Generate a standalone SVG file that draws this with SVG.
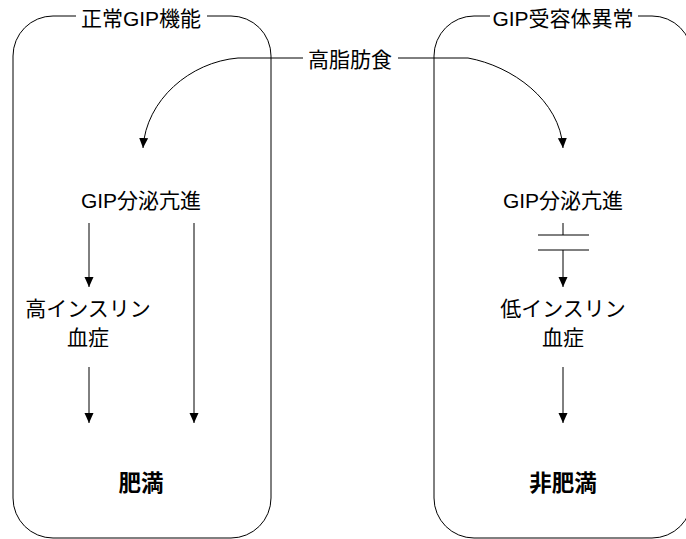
<svg xmlns="http://www.w3.org/2000/svg" width="686" height="539" viewBox="0 0 686 539">
<defs>
<marker id="ah" viewBox="0 0 10 10" refX="10" refY="5" markerWidth="10" markerHeight="10" markerUnits="userSpaceOnUse" orient="auto">
<path d="M0,0.5 L10,5 L0,9.5 Z" fill="#000"/>
</marker>
<style>
.box{fill:none;stroke:#000;stroke-width:1}
.ln{fill:none;stroke:#000;stroke-width:1}
.arr{fill:none;stroke:#000;stroke-width:1;marker-end:url(#ah)}
text{font-family:"Liberation Sans","Noto Sans CJK JP",sans-serif;font-size:21px;fill:#000;text-anchor:middle;dominant-baseline:central}
.b{font-weight:bold;font-size:22.5px}
</style>
</defs>
<rect width="686" height="539" fill="#fff"/>
<g id="box-normal">
<path class="box" d="M207,16 H231 A40,40 0 0 1 271,56 V498 A40,40 0 0 1 231,538 H53 A40,40 0 0 1 13,498 V56 A40,40 0 0 1 53,16 H76"/>
<text x="141" y="18">正常GIP機能</text>
</g>
<g id="box-abnormal">
<path class="box" d="M638,16 H652 A40,40 0 0 1 692,56 V498 A40,40 0 0 1 652,538 H474 A40,40 0 0 1 434,498 V56 A40,40 0 0 1 474,16 H490"/>
<text x="563" y="18">GIP受容体異常</text>
</g>
<g id="hfd"><text x="350" y="59">高脂肪食</text></g>
<g id="gip-left"><text x="141" y="200">GIP分泌亢進</text></g>
<g id="hyperins"><text x="88" y="308">高インスリン</text><text x="88" y="337">血症</text></g>
<g id="obese"><text class="b" x="141" y="483">肥満</text></g>
<g id="gip-right"><text x="563" y="200">GIP分泌亢進</text></g>
<g id="hypoins"><text x="563" y="308">低インスリン</text><text x="563" y="337">血症</text></g>
<g id="nonobese"><text class="b" x="563" y="483">非肥満</text></g>
<g id="connectors">
<path class="arr" d="M303,58 H238 C190,62 146,100 143,148"/>
<path class="arr" d="M398,58 H468 C512,66 560,100 563,148"/>
<path class="arr" d="M89,223 V287"/>
<path class="arr" d="M194,223 V423"/>
<path class="arr" d="M89,367 V423"/>
<path class="ln" d="M563,223 V235 M538,235 H589 M538,250 H589"/>
<path class="arr" d="M563,250 V287"/>
<path class="arr" d="M563,367 V423"/>
</g>
</svg>
